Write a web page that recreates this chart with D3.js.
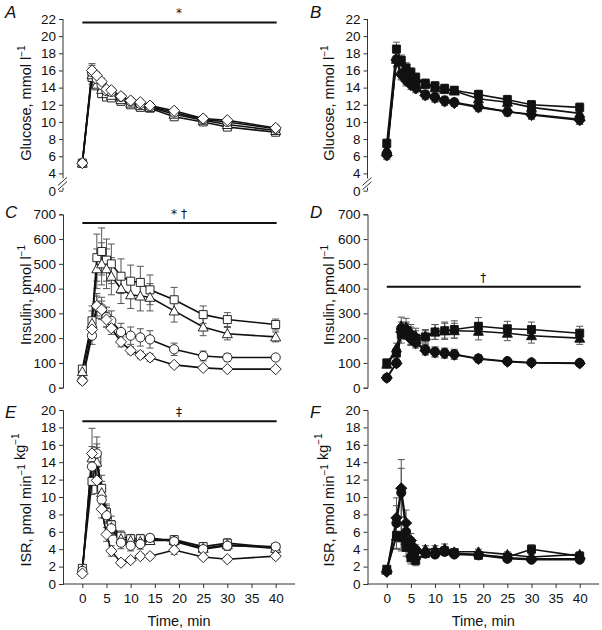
<!DOCTYPE html>
<html><head><meta charset="utf-8">
<script src="https://cdn.jsdelivr.net/npm/d3@7"></script>
<style>body{margin:0;background:#fff}svg{display:block}text{font-family:"Liberation Sans",Arial,Helvetica,sans-serif;fill:#111}</style>
</head><body><svg id="c" width="602" height="630"></svg>
<script>
// ---------------- DATA ----------------
const time = [0,2,3,4,5,6,8,10,12,14,19,25,30,40];
const xTicks = [0,5,10,15,20,25,30,35,40];
const glucoseTicks = [0,4,6,8,10,12,14,16,18,20,22];
const insulinTicks = [0,100,200,300,400,500,600,700];
const isrTicks = [0,2,4,6,8,10,12,14,16,18,20];
const seriesShapes = ["square","triangle","circle","diamond"];

// Panel A – glucose (open symbols)
const gluA_square   = [5.2,15.2,14.2,13.3,12.9,12.8,12.4,12.0,11.7,11.6,10.6,10.0,9.4,8.8];
const gluA_triangle = [5.2,15.5,14.4,13.8,13.3,13.1,12.6,12.2,11.9,11.7,10.9,10.2,9.7,9.0];
const gluA_circle   = [5.2,15.8,15.0,14.3,13.6,13.5,12.9,12.4,12.1,11.8,11.1,10.3,10.0,9.2];
const gluA_diamond  = [5.2,16.0,15.4,14.7,13.8,13.7,13.0,12.5,12.3,11.9,11.3,10.4,10.2,9.3];
const gluA_sem      = [0.2,0.8,0.4,0.4,0.3,0.3,0.3,0.3,0.3,0.3,0.3,0.3,0.3,0.3];

// Panel B – glucose (filled symbols)
const gluB_square   = [7.5,18.5,17.2,16.3,15.8,15.2,14.5,14.2,13.9,13.7,13.2,12.6,12.0,11.7];
const gluB_triangle = [6.8,17.3,17.0,16.0,15.5,15.0,14.4,14.0,13.8,13.6,12.7,12.3,11.7,11.0];
const gluB_circle   = [6.3,17.3,15.6,15.0,14.6,14.2,13.2,12.9,12.5,12.3,11.8,11.2,10.9,10.3];
const gluB_diamond  = [6.1,17.2,15.5,14.8,14.3,13.9,13.1,12.8,12.4,12.2,11.7,11.2,10.8,10.2];
const gluB_sem      = [0.5,0.8,0.6,0.6,0.5,0.5,0.5,0.5,0.5,0.4,0.5,0.5,0.5,0.5];

// Panel C – insulin (open symbols)
const insC_square   = [75,270,525,550,515,500,450,430,425,395,355,295,275,255];
const insC_triangle = [65,260,480,500,480,450,400,375,370,365,310,245,218,205];
const insC_circle   = [30,210,330,320,285,270,225,210,203,195,155,128,122,122];
const insC_diamond  = [28,235,330,315,275,240,185,150,132,122,92,80,75,75];
const insC_sem_square   = [10,60,95,95,85,80,70,65,65,60,50,35,28,22];
const insC_sem_triangle = [10,50,80,85,80,75,60,55,60,55,45,35,25,20];
const insC_sem_circle   = [5,35,50,45,40,40,35,35,35,35,25,20,15,12];
const insC_sem_diamond  = [5,30,40,35,30,25,20,15,15,15,10,8,6,6];

// Panel D – insulin (filled symbols)
const insD_square   = [100,140,215,230,210,200,205,225,230,235,248,238,235,220];
const insD_triangle = [95,160,250,245,225,210,210,225,230,230,228,220,210,200];
const insD_circle   = [40,100,240,235,200,185,155,145,140,135,118,107,102,100];
const insD_diamond  = [40,98,225,220,195,180,150,142,138,133,116,105,100,98];
const insD_sem_square   = [15,20,35,35,35,30,25,30,35,35,35,30,30,28];
const insD_sem_triangle = [15,20,35,35,30,30,25,30,30,30,35,30,30,25];
const insD_sem_circle   = [8,10,25,25,25,20,20,20,20,20,15,12,10,10];
const insD_sem_diamond  = [8,10,25,25,25,20,18,18,18,18,15,12,10,10];

// Panel E – ISR (open symbols)
const isrE_square   = [1.8,11.8,14.3,11.0,8.2,6.8,5.5,5.2,5.2,5.1,5.1,4.3,4.7,4.2];
const isrE_triangle = [1.6,14.5,14.0,10.5,8.0,6.5,5.2,5.0,4.9,5.0,5.0,4.1,4.5,4.1];
const isrE_circle   = [1.5,13.5,15.0,9.7,7.9,6.4,4.75,4.4,4.6,5.3,4.9,4.0,4.4,4.3];
const isrE_diamond  = [1.2,15.0,11.9,8.6,5.7,3.8,2.45,2.75,3.2,3.2,3.9,3.1,2.85,3.2];
const isrE_sem_square   = [0.3,1.5,1.8,1.5,1.0,1.0,0.6,0.5,0.5,0.4,0.4,0.4,0.5,0.3];
const isrE_sem_triangle = [0.3,1.3,1.7,1.3,1.0,0.8,0.6,0.5,0.5,0.4,0.4,0.4,0.6,0.3];
const isrE_sem_circle   = [0.3,1.2,1.9,1.3,0.9,0.8,0.7,0.6,0.6,0.4,0.5,0.4,0.5,0.3];
const isrE_sem_diamond  = [0.3,2.9,1.5,1.0,0.8,0.6,0.3,0.3,0.3,0.3,0.5,0.3,0.3,0.3];

// Panel F – ISR (filled symbols)
const isrF_square   = [1.7,5.6,5.3,4.2,3.0,2.7,3.5,3.6,3.8,3.6,3.3,3.1,4.0,3.2];
const isrF_triangle = [1.6,5.5,5.5,5.0,3.5,3.3,4.0,4.0,4.1,3.7,3.7,3.4,3.1,3.4];
const isrF_circle   = [1.5,7.0,10.5,6.0,4.5,3.8,3.5,3.4,3.7,3.4,3.3,2.9,2.8,2.8];
const isrF_diamond  = [1.4,7.6,11.0,7.0,5.0,4.0,3.6,3.5,3.8,3.5,3.4,3.0,2.9,2.9];
const isrF_sem_square   = [0.3,1.5,1.5,1.0,0.7,0.6,0.4,0.4,0.4,0.3,0.3,0.3,0.5,0.3];
const isrF_sem_triangle = [0.3,1.5,1.5,1.0,0.8,0.6,0.4,0.4,0.5,0.3,0.3,0.3,0.3,0.3];
const isrF_sem_circle   = [0.3,2.0,2.8,1.3,0.8,0.5,0.4,0.4,0.4,0.3,0.3,0.2,0.2,0.2];
const isrF_sem_diamond  = [0.3,2.3,3.3,1.5,0.8,0.5,0.4,0.4,0.5,0.3,0.3,0.2,0.2,0.2];

// ---------------- DRAWING ----------------
const svg = d3.select("#c");
const FONT_TICK = 13.5, FONT_TITLE = 14.5;

// marker paths (centred on 0,0)
const symPath = {
  square:   "M-4,-4H4V4H-4Z",
  triangle: "M0,-5L5,4H-5Z",
  circle:   "M4.6,0A4.6,4.6 0 1,1 -4.6,0A4.6,4.6 0 1,1 4.6,0Z",
  diamond:  "M0,-5.6L5.6,0L0,5.6L-5.6,0Z"
};

function drawPanel(cfg) {
  const g = svg.append("g");
  const x = d3.scaleLinear().domain([-4, 44]).range(cfg.xRange);
  const y = cfg.y;
  const axisX = cfg.xRange[0];

  // y axis
  const ya = g.append("g").attr("transform", `translate(${axisX},0)`)
    .call(d3.axisLeft(y).tickValues(cfg.yTicks).tickSize(4).tickPadding(3));
  ya.selectAll("text").style("font-size", FONT_TICK + "px").attr("fill", "#111");
  ya.selectAll("line").attr("stroke", "#333");
  ya.select(".domain").attr("stroke", "#333");
  if (cfg.brk) {
    ya.select(".domain").remove();
    const y4 = y(4), y0 = y(0);
    ya.append("line").attr("x1",0).attr("x2",0).attr("y1",y(22)).attr("y2",y4+5).attr("stroke","#333");
    ya.append("line").attr("x1",0).attr("x2",0).attr("y1",y0-3).attr("y2",y0).attr("stroke","#333");
    ya.append("line").attr("x1",-5).attr("x2",4).attr("y1",y4+12).attr("y2",y4+4).attr("stroke","#333");
    ya.append("line").attr("x1",-5).attr("x2",4).attr("y1",y0-1).attr("y2",y0-9).attr("stroke","#333");
  }
  // y title
  const t = g.append("text")
    .attr("transform", `translate(${cfg.titleX},${cfg.titleY}) rotate(-90)`)
    .attr("text-anchor", "middle").style("font-size", FONT_TITLE + "px");
  cfg.title.forEach(part => {
    if (part.sup) {
      t.append("tspan").attr("dy", -6).style("font-size", "10px").text(part.sup);
      t.append("tspan").attr("dy", 6).text("");
    } else {
      t.append("tspan").text(part.txt);
    }
  });

  // x axis
  if (cfg.xAxis) {
    const xa = g.append("g").attr("transform", `translate(0,${y(0)})`)
      .call(d3.axisBottom(x).tickValues(xTicks).tickSize(4).tickPadding(5));
    xa.select(".domain").attr("d", `M${cfg.xRange[0]},0H${cfg.xRange[1]}`).attr("stroke","#333");
    xa.selectAll("text").style("font-size", FONT_TICK + "px").attr("fill","#111");
    xa.selectAll("line").attr("stroke","#333");
    g.append("text").attr("x", (x(0)+x(40))/2).attr("y", y(0)+42)
      .attr("text-anchor","middle").style("font-size", FONT_TITLE + "px").text("Time, min");
  }

  // panel letter
  g.append("text").attr("x", cfg.letterX).attr("y", cfg.letterY)
    .style("font-size","17px").style("font-style","italic").text(cfg.letter);

  // significance bar
  if (cfg.sig) {
    g.append("line").attr("x1", x(0)).attr("x2", x(40)+1)
      .attr("y1", y(cfg.sig.v)).attr("y2", y(cfg.sig.v))
      .attr("stroke","#111").attr("stroke-width",2);
    g.append("text").attr("x", (x(0)+x(40))/2).attr("y", y(cfg.sig.v) - 5)
      .attr("text-anchor","middle")
      .style("font-family","'DejaVu Sans',sans-serif").style("font-size","12px")
      .attr("fill","#111").text(cfg.sig.label);
  }

  const series = cfg.series;
  // error bars
  series.forEach(s => {
    const eg = g.append("g").attr("stroke","#555").attr("stroke-width",1);
    time.forEach((tm, i) => {
      const e = s.sem[i];
      const cx = x(tm), yt = y(s.vals[i] + e), yb = y(Math.max(s.vals[i] - e, cfg.yMin));
      eg.append("line").attr("x1",cx).attr("x2",cx).attr("y1",yt).attr("y2",yb);
      eg.append("line").attr("x1",cx-3.5).attr("x2",cx+3.5).attr("y1",yt).attr("y2",yt);
      eg.append("line").attr("x1",cx-3.5).attr("x2",cx+3.5).attr("y1",yb).attr("y2",yb);
    });
  });
  // lines
  const line = d3.line().x((d,i) => x(time[i])).y(d => y(d));
  series.forEach(s => {
    g.append("path").attr("d", line(s.vals)).attr("fill","none")
      .attr("stroke","#111").attr("stroke-width",1.6);
  });
  // markers
  series.forEach(s => {
    g.append("g").selectAll("path").data(s.vals).join("path")
      .attr("transform", (d,i) => `translate(${x(time[i])},${y(d)})`)
      .attr("d", symPath[s.shape])
      .attr("fill", cfg.filled ? "#111" : "#fff")
      .attr("stroke", "#111").attr("stroke-width", 0.9);
  });
}

function mk(valsArr, semArr) {
  return seriesShapes.map((sh, k) => ({shape: sh, vals: valsArr[k], sem: Array.isArray(semArr[0]) ? semArr[k] : semArr}));
}

const LEFT = [63, 295], RIGHT = [367.5, 599];
const gluYA = d3.scaleLinear().domain([0,4,22]).range([190.7,173.4,19]);
const gluYB = d3.scaleLinear().domain([0,4,22]).range([190.7,173.4,19]);
const insY = d3.scaleLinear().domain([0,700]).range([387.7,214.3]);
const isrY = d3.scaleLinear().domain([0,20]).range([584,410]);

const gluTitle = [{txt:"Glucose, mmol l"},{sup:"\u22121"}];
const insTitle = [{txt:"Insulin, pmol l"},{sup:"\u22121"}];
const isrTitle = [{txt:"ISR, pmol min"},{sup:"\u22121"},{txt:" kg"},{sup:"\u22121"}];

drawPanel({letter:"A", letterX:5, letterY:18, xRange:LEFT, y:gluYA, yTicks:glucoseTicks, yMin:0, brk:true,
  title:gluTitle, titleX:31, titleY:103, filled:false, sig:{v:21.6,label:"*"},
  series: mk([gluA_square,gluA_triangle,gluA_circle,gluA_diamond], gluA_sem)});
drawPanel({letter:"B", letterX:310, letterY:18, xRange:RIGHT, y:gluYB, yTicks:glucoseTicks, yMin:0, brk:true,
  title:gluTitle, titleX:334, titleY:103, filled:true,
  series: mk([gluB_square,gluB_triangle,gluB_circle,gluB_diamond], gluB_sem)});
drawPanel({letter:"C", letterX:5, letterY:218, xRange:LEFT, y:insY, yTicks:insulinTicks, yMin:0,
  title:insTitle, titleX:31, titleY:295, filled:false, sig:{v:665,label:"* \u2020"},
  series: mk([insC_square,insC_triangle,insC_circle,insC_diamond],
             [insC_sem_square,insC_sem_triangle,insC_sem_circle,insC_sem_diamond])});
drawPanel({letter:"D", letterX:310, letterY:218, xRange:RIGHT, y:insY, yTicks:insulinTicks, yMin:0,
  title:insTitle, titleX:334, titleY:295, filled:true, sig:{v:408,label:"\u2020"},
  series: mk([insD_square,insD_triangle,insD_circle,insD_diamond],
             [insD_sem_square,insD_sem_triangle,insD_sem_circle,insD_sem_diamond])});
drawPanel({letter:"E", letterX:5, letterY:418, xRange:LEFT, y:isrY, yTicks:isrTicks, yMin:0, xAxis:true,
  title:isrTitle, titleX:31, titleY:500, filled:false, sig:{v:18.7,label:"\u2021"},
  series: mk([isrE_square,isrE_triangle,isrE_circle,isrE_diamond],
             [isrE_sem_square,isrE_sem_triangle,isrE_sem_circle,isrE_sem_diamond])});
drawPanel({letter:"F", letterX:310, letterY:418, xRange:RIGHT, y:isrY, yTicks:isrTicks, yMin:0, xAxis:true,
  title:isrTitle, titleX:334, titleY:500, filled:true,
  series: mk([isrF_square,isrF_triangle,isrF_circle,isrF_diamond],
             [isrF_sem_square,isrF_sem_triangle,isrF_sem_circle,isrF_sem_diamond])});
</script></body></html>
